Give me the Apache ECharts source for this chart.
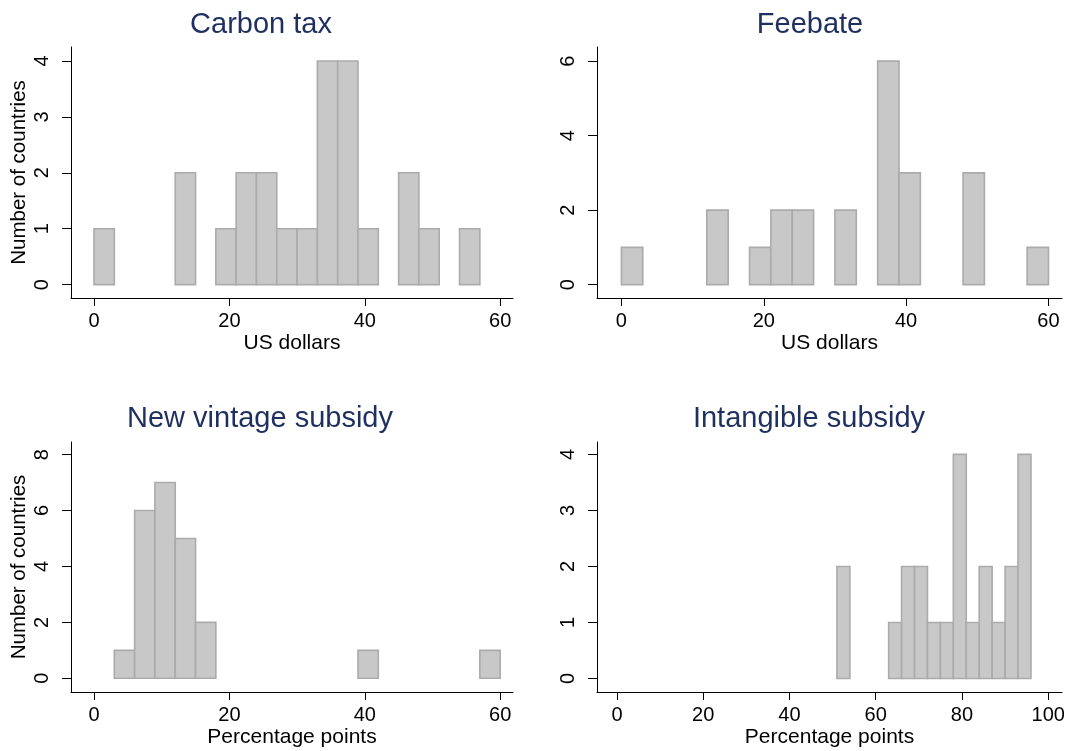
<!DOCTYPE html>
<html>
<head>
<meta charset="utf-8">
<script src="https://cdn.jsdelivr.net/npm/echarts@6/dist/echarts.min.js"></script>
<style>
  html, body { margin: 0; padding: 0; background: #fff; }
  #chart { width: 1072px; height: 751px; }
</style>
</head>
<body>
<div id="chart"></div>
<script>
// histogram bins: start of each bin (width 3) and count of countries
var binWidth = 3;

var carbonStart = [0, 12, 18, 21, 24, 27, 30, 33, 36, 39, 45, 48, 54];
var carbonCount = [1, 2, 1, 2, 2, 1, 1, 4, 4, 1, 2, 1, 1];

var feebateStart = [0, 12, 18, 21, 24, 30, 36, 39, 48, 57];
var feebateCount = [1, 2, 1, 2, 2, 2, 6, 3, 3, 1];

var vintageStart = [3, 6, 9, 12, 15, 39, 57];
var vintageCount = [1, 6, 7, 5, 2, 1, 1];

var intangStart = [51, 63, 66, 69, 72, 75, 78, 81, 84, 87, 90, 93];
var intangCount = [2, 1, 2, 2, 1, 1, 4, 1, 2, 1, 2, 4];

var titles = ['Carbon tax', 'Feebate', 'New vintage subsidy', 'Intangible subsidy'];
var xNames = ['US dollars', 'US dollars', 'Percentage points', 'Percentage points'];
var yName = 'Number of countries';

var xTicksDollar = [0, 20, 40, 60];
var xTicksPct = [0, 20, 40, 60, 80, 100];
var yTicks1 = [0, 1, 2, 3, 4];
var yTicks2 = [0, 2, 4, 6];
var yTicks3 = [0, 2, 4, 6, 8];
var yTicks4 = [0, 1, 2, 3, 4];

var font = '"Liberation Sans", Arial, sans-serif';
var titleColor = '#1f2f5f';

function bins(starts, counts) {
  return starts.map(function (s, i) { return [s, s + binWidth, counts[i]]; });
}

function renderBar(params, api) {
  var p0 = api.coord([api.value(0), 0]);
  var p1 = api.coord([api.value(1), api.value(2)]);
  return {
    type: 'rect',
    shape: { x: p0[0], y: p1[1], width: p1[0] - p0[0], height: p0[1] - p1[1] },
    style: { fill: '#c8c8c8', stroke: '#ababab', lineWidth: 1.6 }
  };
}

function xAxis(i, min, max, ticks) {
  return {
    type: 'value', gridIndex: i, min: min, max: max,
    name: xNames[i], nameLocation: 'middle', nameGap: 35,
    nameTextStyle: { fontFamily: font, fontSize: 21, color: '#000' },
    axisLine: { show: true, onZero: false, lineStyle: { color: '#000', width: 1 } },
    axisTick: { show: true, length: 8, customValues: ticks, lineStyle: { color: '#000' } },
    axisLabel: { customValues: ticks, margin: 13, fontFamily: font, fontSize: 20, color: '#000' },
    splitLine: { show: false }
  };
}

function yAxis(i, min, max, ticks, named) {
  return {
    type: 'value', gridIndex: i, min: min, max: max,
    name: named ? yName : '', nameLocation: 'middle', nameGap: 41, nameRotate: 90,
    nameTextStyle: { fontFamily: font, fontSize: 20.5, color: '#000' },
    axisLine: { show: true, onZero: false, lineStyle: { color: '#000', width: 1 } },
    axisTick: { show: true, length: 9, customValues: ticks, lineStyle: { color: '#000' } },
    axisLabel: { customValues: ticks, rotate: 90, margin: 19, fontFamily: font, fontSize: 20, color: '#000' },
    splitLine: { show: false }
  };
}

var chart = echarts.init(document.getElementById('chart'), null, { renderer: 'canvas' });

chart.setOption({
  backgroundColor: '#fff',
  animation: false,
  title: [
    { text: titles[0], left: 261, top: 10, textAlign: 'center' },
    { text: titles[1], left: 810, top: 10, textAlign: 'center' },
    { text: titles[2], left: 260, top: 404, textAlign: 'center' },
    { text: titles[3], left: 809, top: 404, textAlign: 'center' }
  ].map(function (t) {
    t.padding = 0;
    t.textStyle = { fontFamily: font, fontSize: 29, fontWeight: 'normal', color: titleColor };
    return t;
  }),
  grid: [
    { left: 71, top: 47, width: 442, height: 251 },
    { left: 597, top: 47, width: 465, height: 251 },
    { left: 71, top: 442, width: 442, height: 250 },
    { left: 597, top: 442, width: 465, height: 250 }
  ],
  xAxis: [
    xAxis(0, -3.4, 61.9, xTicksDollar),
    xAxis(1, -3.43, 61.9, xTicksDollar),
    xAxis(2, -3.4, 61.9, xTicksDollar),
    xAxis(3, -4.64, 103.2, xTicksPct)
  ],
  yAxis: [
    yAxis(0, -0.24, 4.25, yTicks1, true),
    yAxis(1, -0.36, 6.38, yTicks2, false),
    yAxis(2, -0.49, 8.45, yTicks3, true),
    yAxis(3, -0.24, 4.22, yTicks4, false)
  ],
  series: [
    [carbonStart, carbonCount],
    [feebateStart, feebateCount],
    [vintageStart, vintageCount],
    [intangStart, intangCount]
  ].map(function (d, i) {
    return {
      type: 'custom', xAxisIndex: i, yAxisIndex: i,
      renderItem: renderBar,
      encode: { x: [0, 1], y: 2 },
      data: bins(d[0], d[1])
    };
  })
});
</script>
</body>
</html>
